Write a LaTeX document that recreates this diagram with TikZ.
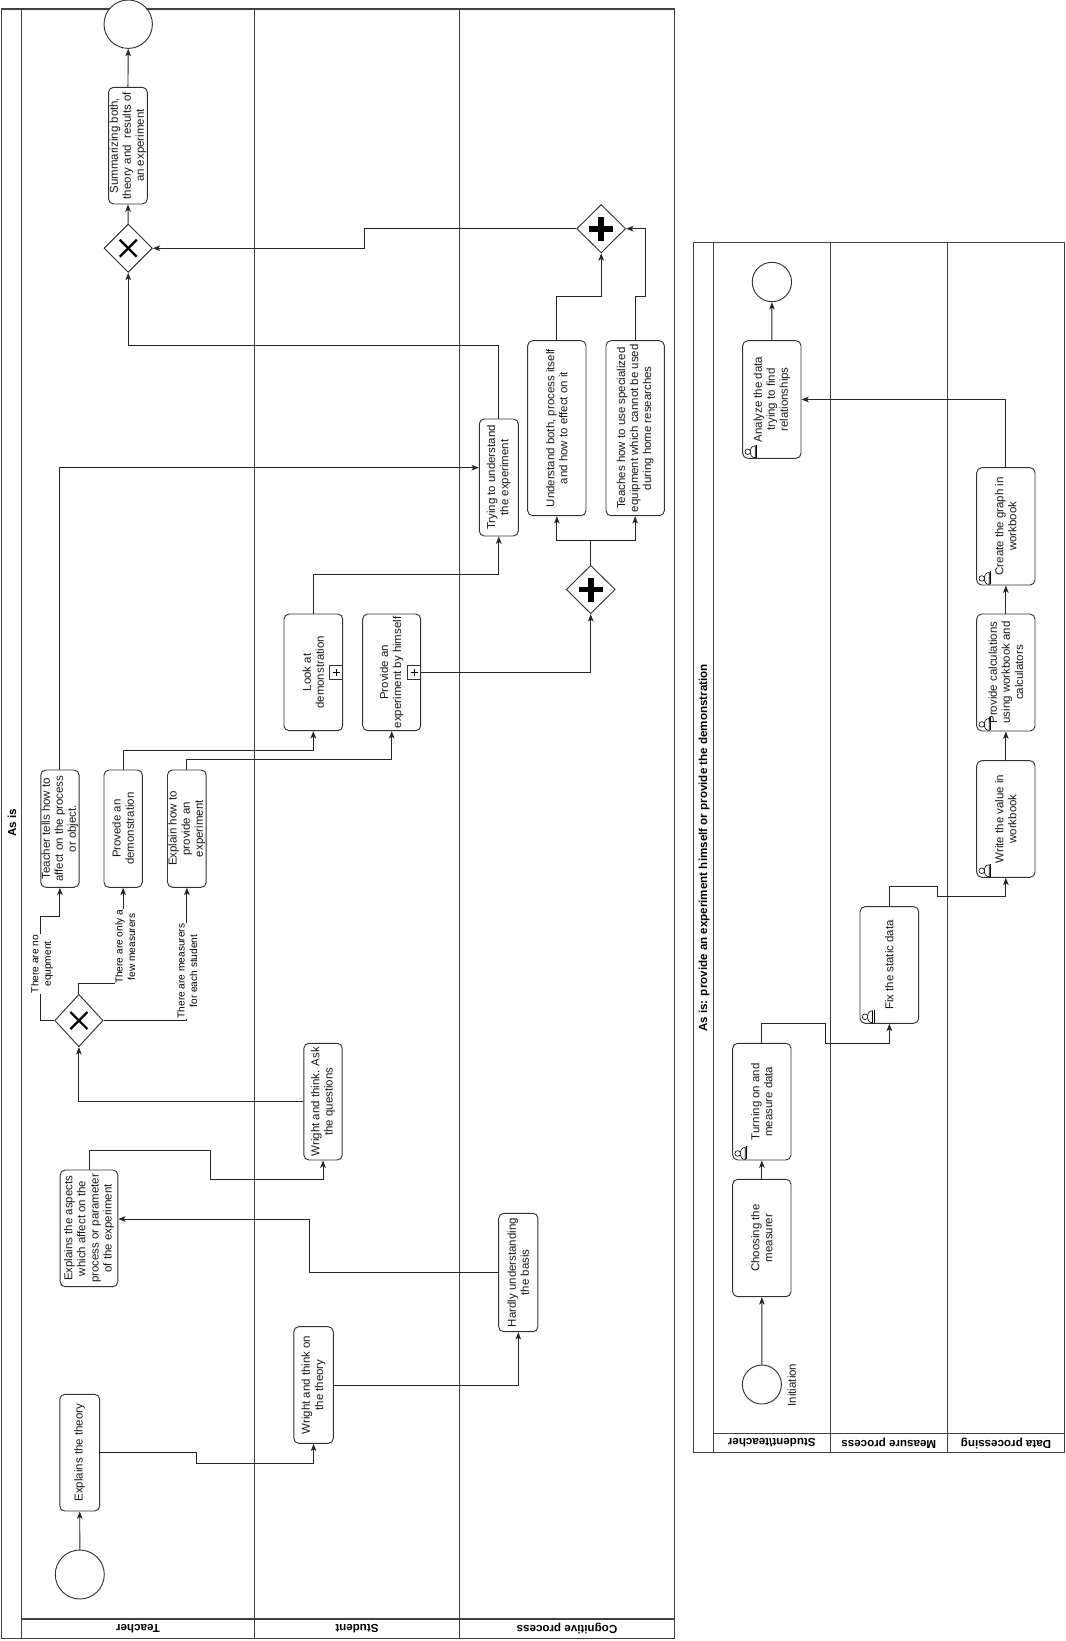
\documentclass[tikz,border=0pt]{standalone}
\usepackage{fontspec}
\setmainfont{Liberation Sans}
\usetikzlibrary{arrows.meta,shapes.geometric,fit,calc}
\begin{document}
\begin{tikzpicture}[x=0.75pt,y=-0.75pt,
  pool/.style={draw=black!75, line width=0.8pt},
  task/.style={draw=black!80, line width=0.7pt, rounded corners=3.75pt, inner sep=0pt, fill=white},
  ttxt/.style={font=\fontsize{8.6}{9.8}\selectfont, align=center, rotate=90, inner sep=0pt, text=black!90},
  cond/.style={font=\fontsize{7.6}{9.4}\selectfont, align=center, rotate=90, inner sep=0.6pt, fill=white},
  lanelbl/.style={font=\bfseries\fontsize{8.7}{10}\selectfont, rotate=180, inner sep=0pt},
  poollbl/.style={font=\bfseries\fontsize{8.7}{10}\selectfont, rotate=90, inner sep=0pt},
  flow/.style={draw=black!85, line width=0.7pt, -{Stealth[length=5.5pt,width=4.2pt,inset=1.4pt]}},
  gw/.style={diamond, draw=black!80, line width=0.7pt, inner sep=0pt, fill=white},
  ev/.style={circle, draw=black!80, line width=0.7pt, inner sep=0pt, fill=white},
  xmark/.style={line width=1.7pt, black},
  pmark/.style={line width=4.2pt, black},
  subm/.style={draw=black!80, line width=0.6pt, minimum size=10pt, inner sep=0pt, anchor=east, fill=white},
  usr/.pic={
    \draw[line width=0.45pt, fill=white] (13,-13) .. controls (6,-13) and (6,-1) .. (13,-1) -- cycle;
    \draw[line width=0.45pt, fill=white] (5.5,-7) circle[radius=2.1pt];
    \draw[line width=0.45pt] (14.5,-14) -- (14.5,-1);
  }
]
\useasboundingbox (0,0) rectangle (1065,1641);
\fill[white] (0,0) rectangle (1065,1641);

% ---------------- left pool frame ----------------
\draw[pool] (1.5,9) rectangle (674.3,1638.3);
\draw[pool] (21.7,9) -- (21.7,1638.3);
\draw[pool] (254.5,9) -- (254.5,1638.3);
\draw[pool] (459.5,9) -- (459.5,1638.3);
\draw[pool] (21.7,1619) -- (674.3,1619);
\node[poollbl] (plA) at (12,823) {As is};
\node[lanelbl] (lnT) at (138,1628.6) {Teacher};
\node[lanelbl] (lnS) at (357,1628.6) {Student};
\node[lanelbl] (lnC) at (567,1628.6) {Cognitive process};

% ---------------- right pool frame ----------------
\draw[pool] (693.7,242.7) rectangle (1064.7,1452.7);
\draw[pool] (713.3,242.7) -- (713.3,1452.7);
\draw[pool] (830.3,242.7) -- (830.3,1452.7);
\draw[pool] (947.3,242.7) -- (947.3,1452.7);
\draw[pool] (713.3,1433.3) -- (1064.7,1433.3);
\node[poollbl] (plB) at (704,848) {As is: provide an experiment himself or provide the demonstration};
\node[lanelbl] (lnST) at (771.8,1443) {Student\textbackslash teacher};
\node[lanelbl] (lnM) at (888.8,1443) {Measure process};
\node[lanelbl] (lnD) at (1006,1443) {Data processing};

% ---------------- left pool nodes ----------------
\node[ev, minimum size=36.75pt] (s1) at (79.8,1574.5) {};
\node[ev, minimum size=36.3pt] (e1) at (128.2,24.2) {};

\node[task, fit={(59.8,1394.3) (99.7,1511)}] (t1) {};
\node[ttxt] (t1t) at (t1) {Explains the theory};
\node[task, fit={(60.2,1170) (117.8,1286.7)}] (t4) {};
\node[ttxt] (t4t) at (t4) {Explains the aspects\\which affect on the\\process or parameter\\of the experiment};
\node[task, fit={(293.8,1326.7) (333.3,1443.3)}] (t2) {};
\node[ttxt] (t2t) at (t2) {Wright and think on\\the theory};
\node[task, fit={(498.7,1213.3) (537.9,1331.7)}] (t3) {};
\node[ttxt] (t3t) at (t3) {Hardly understanding\\the basis};
\node[task, fit={(303.9,1043.3) (342.2,1160)}] (t5) {};
\node[ttxt] (t5t) at (t5) {Wright and think. Ask\\the questions};

\node[gw, minimum width=36.3pt, minimum height=39.3pt] (g1) at (78.9,1020.5) {};
\draw[xmark] ([shift={(-8.5,-8.5)}]g1.center) -- ([shift={(8.5,8.5)}]g1.center);
\draw[xmark] ([shift={(-8.5,8.5)}]g1.center) -- ([shift={(8.5,-8.5)}]g1.center);

\node[task, fit={(40.8,770) (79.1,887.3)}] (tt) {};
\node[ttxt] (ttt) at (tt) {Teacher tells how to\\affect on the process\\or object.};
\node[task, fit={(104,770) (142.3,887.3)}] (pv) {};
\node[ttxt] (pvt) at (pv) {Provede an\\demonstration};
\node[task, fit={(167.5,770) (206.2,887.3)}] (ex) {};
\node[ttxt] (ext) at (ex) {Explain how to\\provide an\\experiment};

\node[task, fit={(284,614) (342.7,730.7)}] (lk) {};
\node[ttxt] (lkt) at (lk) {Look at\\demonstration};
\node[subm] (lkm) at (lk.east) {};
\draw[line width=0.6pt] ([xshift=-2.6pt]lkm.center) -- ([xshift=2.6pt]lkm.center) ([yshift=-2.6pt]lkm.center) -- ([yshift=2.6pt]lkm.center);
\node[task, fit={(362.7,614) (420.7,730.7)}] (pr) {};
\node[ttxt] (prt) at (pr) {Provide an\\experiment by himself};
\node[subm] (prm) at (pr.east) {};
\draw[line width=0.6pt] ([xshift=-2.6pt]prm.center) -- ([xshift=2.6pt]prm.center) ([yshift=-2.6pt]prm.center) -- ([yshift=2.6pt]prm.center);

\node[task, fit={(479.3,419) (518.3,536)}] (tr) {};
\node[ttxt] (trt) at (tr) {Trying to understand\\the experiment};
\node[task, fit={(527.7,340.7) (586,515.7)}] (ub) {};
\node[ttxt] (ubt) at (ub) {Understand both, process itself\\and how to effect on it};
\node[task, fit={(606,340.7) (664.3,515.7)}] (tch) {};
\node[ttxt] (tcht) at (tch) {Teaches how to use specialized\\equipment which cannot be used\\during home researches};

\node[gw, minimum width=36.75pt, minimum height=36.3pt] (a2) at (590.7,589.5) {};
\draw[pmark] ([shift={(-12,0)}]a2.center) -- ([shift={(12,0)}]a2.center);
\draw[pmark] ([shift={(0,-12)}]a2.center) -- ([shift={(0,12)}]a2.center);
\node[gw, minimum width=36.75pt, minimum height=36.3pt] (a1) at (601.2,228.7) {};
\draw[pmark] ([shift={(-12,0)}]a1.center) -- ([shift={(12,0)}]a1.center);
\draw[pmark] ([shift={(0,-12)}]a1.center) -- ([shift={(0,12)}]a1.center);
\node[gw, minimum width=36.3pt, minimum height=36.3pt] (x2) at (128.2,248.2) {};
\draw[xmark] ([shift={(-8.5,-8.5)}]x2.center) -- ([shift={(8.5,8.5)}]x2.center);
\draw[xmark] ([shift={(-8.5,8.5)}]x2.center) -- ([shift={(8.5,-8.5)}]x2.center);

\node[task, fit={(108.6,87.3) (147.3,204)}] (sm) {};
\node[ttxt] (smt) at (sm) {Summarizing both,\\theory and~ results of\\an experiment};

\coordinate (c4) at (309.3,1219);
\coordinate (trin) at ($(tr.west)+(0,-9.8)$);

% ---------------- left pool flows ----------------
\draw[flow] (s1) -- (t1);
\draw[flow] (t1.east) -| (196.5,1463.3) -| (t2.south);
\draw[flow] (t2.east) -| (t3.south);
\draw[flow] (t3.west) -| (c4) -- (c4 -| t4.east);
\draw[flow] (t4.north) -- ++(0,-19) -| (210.4,1179.3) -| (t5.south);
\draw[flow] (t5.west) -| (g1.south);
\draw[flow] (g1.west) -| (40.8,916.7) -| (tt.south);
\draw[flow] (g1.north) -- ++(0,-10.3) -| (pv.south);
\draw[flow] (g1.east) -| (ex.south);
\draw[flow] (tt.north) |- (trin);
\draw[flow] (pv.north) -- ++(0,-19.3) -| (lk.south);
\draw[flow] (ex.north) -- ++(0,-9.7) -| (pr.south);
\draw[flow] (lk.north) -- ++(0,-39) -| (tr.south);
\draw[flow] (pr.east) -| (a2.south);
\draw[flow] (a2.north) -- ++(0,-24.5) -| (ub.south);
\draw[flow] (a2.north) -- ++(0,-24.5) -| (tch.south);
\draw[flow] (ub.north) -- ++(0,-44) -| (a1.south);
\draw[flow] (tch.north) -- ++(0,-44) -| (645,228.7) -- (a1.east);
\draw[flow] (a1.west) -| (364.4,248.2) -- (x2.east);
\draw[flow] (tr.north) -- ++(0,-73.2) -| (x2.south);
\draw[flow] (x2.north) -- (sm.south);
\draw[flow] (sm.north) -- (e1.south);

\node[cond] (cd1) at (42,964) {There are no\\equpment};
\node[cond] (cd2) at (125.3,947) {There are only a\\few measurers};
\node[cond] (cd3) at (187.3,971) {There are measurers\\for each student};

% ---------------- right pool nodes ----------------
\node[ev, minimum size=29.5pt] (re) at (771.9,282) {};
\node[ev, minimum size=29.25pt] (rs) at (761.9,1384.5) {};
\node[ttxt] (rst) at (791.7,1385) {Initiation};

\node[task, fit={(742.7,340.7) (801,458.3)}] (an) {};
\node[ttxt] (ant) at (an) {Analyze the data\\trying to find\\relationships};
\pic at (an.south west) {usr};
\node[task, fit={(976.7,467.7) (1035,585)}] (cg) {};
\node[ttxt] (cgt) at (cg) {Create the graph in\\workbook};
\pic at (cg.south west) {usr};
\node[task, fit={(976.7,614) (1035,731)}] (pc) {};
\node[ttxt] (pct) at (pc) {Provide calculations\\using workbook and\\calculators};
\pic at (pc.south west) {usr};
\node[task, fit={(976.7,760.7) (1035,877.3)}] (wv) {};
\node[ttxt] (wvt) at (wv) {Write the value in\\workbook};
\pic at (wv.south west) {usr};
\node[task, fit={(860,906.7) (918.7,1023.3)}] (fx) {};
\node[ttxt] (fxt) at (fx) {Fix the static data};
\pic at (fx.south west) {usr};
\node[task, fit={(732.7,1043.3) (791,1160)}] (tu) {};
\node[ttxt] (tut) at (tu) {Turning on and\\measure data};
\pic at (tu.south west) {usr};
\node[task, fit={(732.7,1179.3) (791,1296.7)}] (ch) {};
\node[ttxt] (cht) at (ch) {Choosing the\\measurer};

% ---------------- right pool flows ----------------
\draw[flow] (rs) -- (ch);
\draw[flow] (ch.north) -- (tu.south);
\draw[flow] (tu.north) -- ++(0,-19.3) -| (825.7,1043.3) -| (fx.south);
\draw[flow] (fx.north) -- ++(0,-19.4) -| (937.3,896.7) -| (wv.south);
\draw[flow] (wv.north) -- (pc.south);
\draw[flow] (pc.north) -- (cg.south);
\draw[flow] (cg.north) |- (an.east);
\draw[flow] (an.north) -- (re.south);
\end{tikzpicture}
\end{document}
